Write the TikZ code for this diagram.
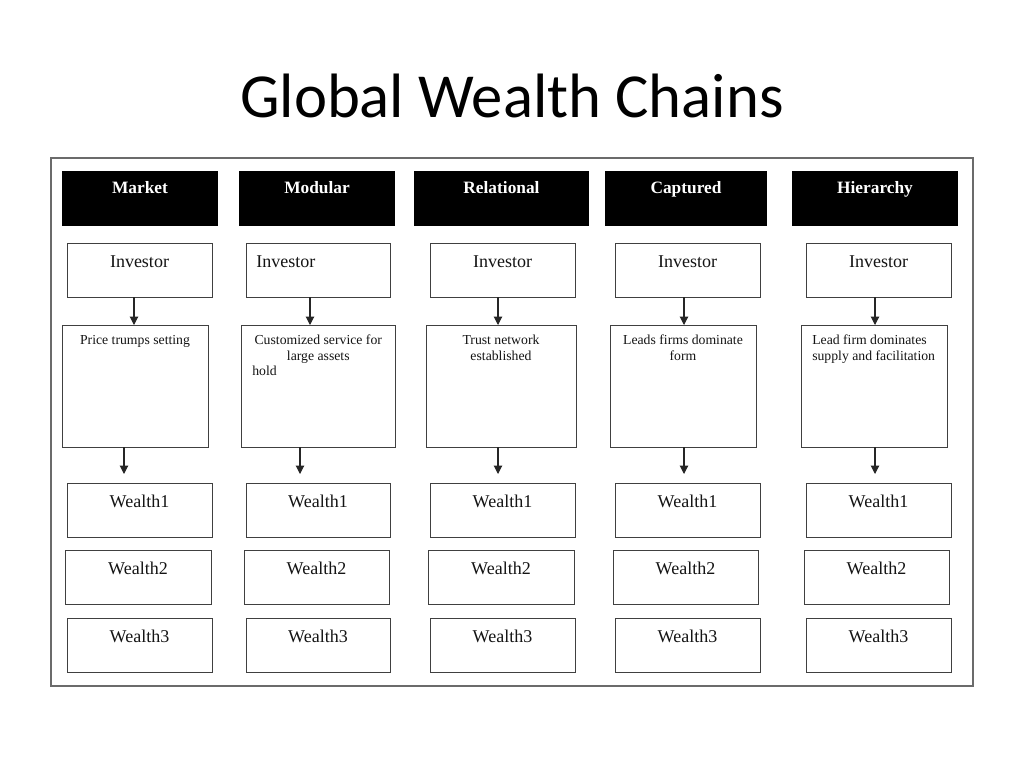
\documentclass[tikz,border=0pt]{standalone}
\usepackage{fontspec}
\setmainfont{Liberation Serif}
\newfontfamily\titlefont{Carlito}
\usetikzlibrary{arrows.meta}
\definecolor{boxline}{gray}{0.25}
\definecolor{frameline}{gray}{0.42}
\definecolor{txt}{gray}{0.08}
% style, name, x1, y1, x2, y2
\newcommand\gwbox[6]{%
  \node[#1, anchor=north west, minimum width={(#5-#3)*0.75pt}, minimum height={(#6-#4)*0.75pt}] (#2) at (#3,#4) {};}
\begin{document}
\begin{tikzpicture}[x=0.75pt,y=-0.75pt,
  framebox/.style={draw=frameline, line width=1.1pt, inner sep=0pt, outer sep=0pt},
  headbox/.style={fill=black, draw=none, inner sep=0pt, outer sep=0pt},
  plainbox/.style={draw=boxline, line width=0.7pt, fill=white, inner sep=0pt, outer sep=0pt},
  headtxt/.style={text=white, font=\bfseries\fontsize{13}{15}\selectfont, inner sep=0pt, anchor=base},
  bigtxt/.style={text=txt, font=\fontsize{13.5}{16}\selectfont, inner sep=0pt, anchor=base},
  smalltxt/.style={text=txt, font=\fontsize{10.3}{11.6}\selectfont, inner sep=0pt},
  arr/.style={draw=black!85, line width=0.8pt, -{Triangle[width=6.3pt,length=6.3pt]}}
]
\useasboundingbox (0,0) rectangle (1024,768);

% title
\node[anchor=base, inner sep=0pt, font=\titlefont\fontsize{47}{52}\selectfont] (title) at (512,117) {Global Wealth Chains};

% frame
\gwbox{framebox}{frame}{51}{158}{973}{686}

% headers
\gwbox{headbox}{h1}{62}{171}{218}{226}
\gwbox{headbox}{h2}{239}{171}{395}{226}
\gwbox{headbox}{h3}{414}{171}{589}{226}
\gwbox{headbox}{h4}{605}{171}{767}{226}
\gwbox{headbox}{h5}{792}{171}{958}{226}
\node[headtxt] (h1t) at ([yshift=-16.5pt]h1.north) {Market};
\node[headtxt] (h2t) at ([yshift=-16.5pt]h2.north) {Modular};
\node[headtxt] (h3t) at ([yshift=-16.5pt]h3.north) {Relational};
\node[headtxt] (h4t) at ([yshift=-16.5pt]h4.north) {Captured};
\node[headtxt] (h5t) at ([yshift=-16.5pt]h5.north) {Hierarchy};

% investors
\gwbox{plainbox}{i1}{67}{243}{212}{297}
\gwbox{plainbox}{i2}{246}{243}{390}{297}
\gwbox{plainbox}{i3}{430}{243}{575}{297}
\gwbox{plainbox}{i4}{615}{243}{760}{297}
\gwbox{plainbox}{i5}{806}{243}{951}{297}
\node[bigtxt] (i1t) at ([yshift=-18pt]i1.north) {Investor};
\node[bigtxt, anchor=base west] (i2t) at ([xshift=7.5pt,yshift=-18pt]i2.north west) {Investor};
\node[bigtxt] (i3t) at ([yshift=-18pt]i3.north) {Investor};
\node[bigtxt] (i4t) at ([yshift=-18pt]i4.north) {Investor};
\node[bigtxt] (i5t) at ([yshift=-18pt]i5.north) {Investor};

% middle boxes
\gwbox{plainbox}{m1}{62}{325}{208}{447}
\gwbox{plainbox}{m2}{241}{325}{395}{447}
\gwbox{plainbox}{m3}{426}{325}{576}{447}
\gwbox{plainbox}{m4}{610}{325}{756}{447}
\gwbox{plainbox}{m5}{801}{325}{947}{447}
\node[smalltxt, anchor=north, align=center] (m1t) at ([yshift=-7.5pt]m1.north) {Price trumps setting};
\node[smalltxt, anchor=north west, align=left] (m2t) at ([xshift=8.25pt,yshift=-7.5pt]m2.north west)
  {\makebox[99pt]{Customized service for}\\\makebox[99pt]{large assets}\\hold};
\node[smalltxt, anchor=north, align=center] (m3t) at ([yshift=-7.5pt]m3.north) {Trust network\\established};
\node[smalltxt, anchor=north, align=center] (m4t) at ([yshift=-7.5pt]m4.north) {Leads firms dominate\\form};
\node[smalltxt, anchor=north west, align=left] (m5t) at ([xshift=8.25pt,yshift=-7.5pt]m5.north west) {Lead firm dominates\\supply and facilitation};

% wealth rows
\gwbox{plainbox}{wa1}{67}{483}{212}{537}
\gwbox{plainbox}{wa2}{246}{483}{390}{537}
\gwbox{plainbox}{wa3}{430}{483}{575}{537}
\gwbox{plainbox}{wa4}{615}{483}{760}{537}
\gwbox{plainbox}{wa5}{806}{483}{951}{537}
\gwbox{plainbox}{wb1}{65}{550}{211}{604}
\gwbox{plainbox}{wb2}{244}{550}{389}{604}
\gwbox{plainbox}{wb3}{428}{550}{574}{604}
\gwbox{plainbox}{wb4}{613}{550}{758}{604}
\gwbox{plainbox}{wb5}{804}{550}{949}{604}
\gwbox{plainbox}{wc1}{67}{618}{212}{672}
\gwbox{plainbox}{wc2}{246}{618}{390}{672}
\gwbox{plainbox}{wc3}{430}{618}{575}{672}
\gwbox{plainbox}{wc4}{615}{618}{760}{672}
\gwbox{plainbox}{wc5}{806}{618}{951}{672}
\foreach \k in {1,...,5}{
  \node[bigtxt] (wa\k t) at ([yshift=-18pt]wa\k.north) {Wealth1};
  \node[bigtxt] (wb\k t) at ([yshift=-18pt]wb\k.north) {Wealth2};
  \node[bigtxt] (wc\k t) at ([yshift=-18pt]wc\k.north) {Wealth3};
}

% arrow columns
\coordinate (ca1) at (134,0);
\coordinate (ca2) at (310,0);
\coordinate (ca3) at (498,0);
\coordinate (ca4) at (684,0);
\coordinate (ca5) at (875,0);
\coordinate (t1) at (124,474);
\coordinate (t2) at (300,474);
\coordinate (t3) at (498,474);
\coordinate (t4) at (684,474);
\coordinate (t5) at (875,474);
\foreach \k in {1,...,5}{
  \draw[arr] (i\k.south -| ca\k) -- (m\k.north -| ca\k);
  \draw[arr] (m\k.south -| t\k) -- (t\k);
}
\end{tikzpicture}
\end{document}
